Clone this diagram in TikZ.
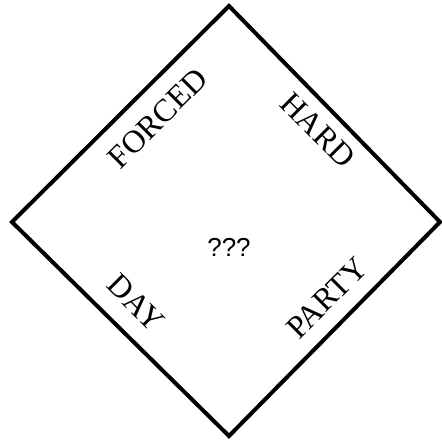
\documentclass[tikz,border=0pt]{standalone}
\usepackage{fontspec}
\setmainfont{Liberation Serif}
\newfontfamily\qmarkfont{Liberation Sans}
\usepackage{tikz}

\begin{document}
\begin{tikzpicture}[x=1pt, y=1pt,
  word/.style={font=\fontsize{32}{34}\selectfont, inner sep=0pt},
  edge/.style={draw, line width=4pt, line join=miter}]
  \useasboundingbox (0,0) rectangle (442,442);
  \coordinate (top) at (229,436);
  \coordinate (right) at (440,220);
  \coordinate (bottom) at (229,6);
  \coordinate (left) at (12,220);
  \draw[edge] (top) -- (right) -- (bottom) -- (left) -- cycle;
  \node[word, rotate=45] (forced) at (158,324) {FORCED};
  \node[word, rotate=-45] (hard) at (318,312) {HARD};
  \node[word, rotate=-45] (day) at (136,139) {DAY};
  \node[word, rotate=45] (party) at (327,144) {PARTY};
  \node[inner sep=0pt, font=\qmarkfont\fontsize{26}{28}\selectfont] (mystery) at (229,195) {???};
\end{tikzpicture}
\end{document}
